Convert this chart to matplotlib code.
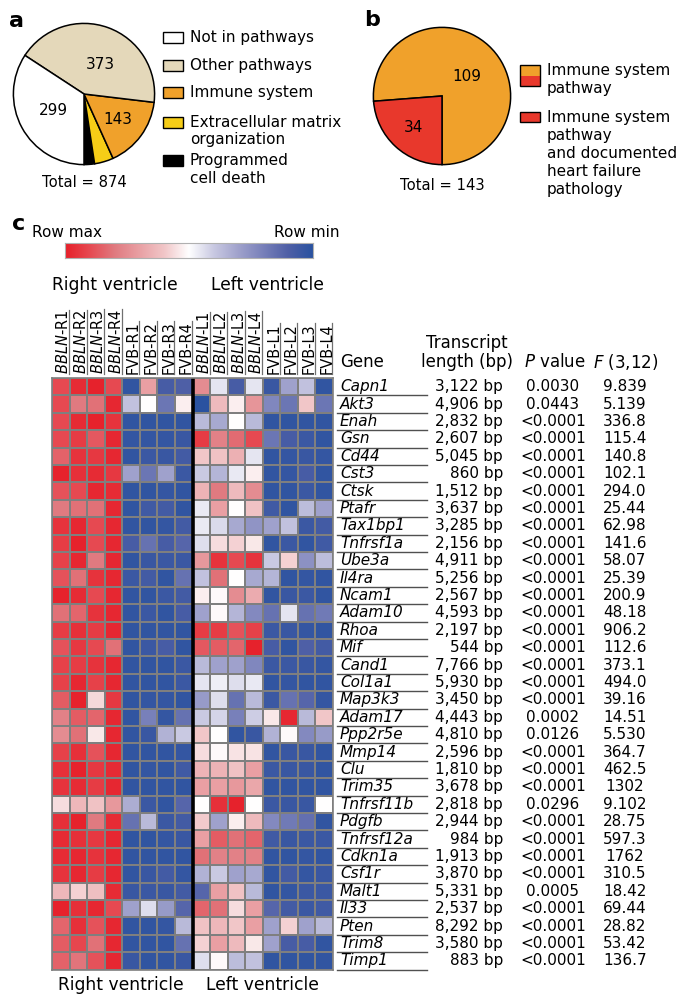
import numpy as np
import matplotlib.pyplot as plt
from matplotlib.colors import LinearSegmentedColormap
from matplotlib.patches import Rectangle

# ---- panel a: genes by pathway ----
pie_a_labels = ['Not in pathways', 'Other pathways', 'Immune system',
                'Extracellular matrix\norganization', 'Programmed\ncell death']
pie_a_counts = [299, 373, 143, 38, 21]
pie_a_colors = ['#ffffff', '#e4d8ba', '#f0a12b', '#f6cd17', '#000000']

# ---- panel b: immune system genes ----
pie_b_labels = ['Immune system\npathway',
                'Immune system\npathway\nand documented\nheart failure\npathology']
pie_b_counts = [109, 34]
pie_b_colors = ['#f0a12b', '#e8382c']

# ---- panel c: heatmap + table ----
samples = ['BBLN-R1', 'BBLN-R2', 'BBLN-R3', 'BBLN-R4', 'FVB-R1', 'FVB-R2', 'FVB-R3', 'FVB-R4',
           'BBLN-L1', 'BBLN-L2', 'BBLN-L3', 'BBLN-L4', 'FVB-L1', 'FVB-L2', 'FVB-L3', 'FVB-L4']

genes = ['Capn1', 'Akt3', 'Enah', 'Gsn', 'Cd44', 'Cst3', 'Ctsk', 'Ptafr', 'Tax1bp1',
         'Tnfrsf1a', 'Ube3a', 'Il4ra', 'Ncam1', 'Adam10', 'Rhoa', 'Mif', 'Cand1', 'Col1a1',
         'Map3k3', 'Adam17', 'Ppp2r5e', 'Mmp14', 'Clu', 'Trim35', 'Tnfrsf11b', 'Pdgfb',
         'Tnfrsf12a', 'Cdkn1a', 'Csf1r', 'Malt1', 'Il33', 'Pten', 'Trim8', 'Timp1']

transcript_bp = [3122, 4906, 2832, 2607, 5045, 860, 1512, 3637, 3285, 2156, 4911, 5256,
                 2567, 4593, 2197, 544, 7766, 5930, 3450, 4443, 4810, 2596, 1810, 3678,
                 2818, 2944, 984, 1913, 3870, 5331, 2537, 8292, 3580, 883]

p_values = ['0.0030', '0.0443'] + ['<0.0001'] * 17 + ['0.0002', '0.0126', '<0.0001',
            '<0.0001', '<0.0001', '0.0296', '<0.0001', '<0.0001', '<0.0001', '<0.0001',
            '0.0005', '<0.0001', '<0.0001', '<0.0001', '<0.0001']

f_values = ['9.839', '5.139', '336.8', '115.4', '140.8', '102.1', '294.0', '25.44', '62.98',
            '141.6', '58.07', '25.39', '200.9', '48.18', '906.2', '112.6', '373.1', '494.0',
            '39.16', '14.51', '5.530', '364.7', '462.5', '1302', '9.102', '28.75', '597.3',
            '1762', '310.5', '18.42', '69.44', '28.82', '53.42', '136.7']

# row-scaled expression, 1 = row max (red), 0 = row min (blue)
bbln_rv = [[0.90, 0.97, 0.99, 0.90], [0.90, 0.80, 0.82, 0.98], [0.90, 0.97, 0.99, 0.95],
           [0.90, 0.93, 0.87, 0.98], [0.85, 0.95, 0.94, 0.98], [0.99, 0.96, 0.97, 0.94],
           [0.88, 0.90, 0.98, 0.97], [0.80, 0.82, 0.82, 0.98], [0.95, 0.98, 0.90, 0.98],
           [0.93, 0.99, 0.90, 0.98], [0.92, 0.98, 0.80, 0.98], [0.88, 0.82, 0.95, 0.98],
           [0.99, 0.97, 0.90, 0.98], [0.82, 0.84, 0.95, 0.98], [0.93, 0.96, 0.93, 0.98],
           [0.88, 0.94, 0.90, 0.82], [0.92, 0.93, 0.95, 0.98], [0.92, 0.98, 0.92, 0.98],
           [0.86, 0.99, 0.57, 0.94], [0.78, 0.86, 0.84, 0.98], [0.75, 0.82, 0.54, 0.98],
           [0.92, 0.96, 0.88, 0.98], [0.96, 0.99, 0.94, 0.97], [0.95, 0.97, 0.93, 0.98],
           [0.56, 0.64, 0.61, 0.72], [0.96, 0.99, 0.80, 0.97], [0.97, 0.96, 0.94, 0.98],
           [0.97, 0.98, 0.95, 0.98], [0.95, 0.98, 0.93, 0.98], [0.64, 0.58, 0.62, 0.97],
           [0.99, 0.96, 0.98, 0.90], [0.84, 0.96, 0.88, 0.98], [0.86, 0.91, 0.82, 0.98],
           [0.85, 0.81, 0.88, 0.98]]
fvb_rv = [[0.02, 0.70, 0.08, 0.10], [0.38, 0.50, 0.17, 0.53], [0.02, 0.02, 0.02, 0.02],
          [0.03, 0.03, 0.03, 0.04], [0.02, 0.05, 0.04, 0.07], [0.30, 0.17, 0.30, 0.05],
          [0.02, 0.02, 0.03, 0.02], [0.02, 0.06, 0.07, 0.02], [0.02, 0.02, 0.03, 0.07],
          [0.08, 0.16, 0.08, 0.12], [0.02, 0.04, 0.05, 0.05], [0.05, 0.07, 0.02, 0.16],
          [0.02, 0.02, 0.05, 0.07], [0.02, 0.05, 0.02, 0.08], [0.02, 0.02, 0.02, 0.02],
          [0.02, 0.05, 0.08, 0.02], [0.02, 0.02, 0.02, 0.05], [0.02, 0.02, 0.02, 0.05],
          [0.02, 0.03, 0.03, 0.02], [0.02, 0.20, 0.03, 0.16], [0.02, 0.04, 0.34, 0.40],
          [0.02, 0.02, 0.02, 0.03], [0.02, 0.03, 0.02, 0.06], [0.02, 0.02, 0.02, 0.02],
          [0.33, 0.05, 0.02, 0.12], [0.16, 0.36, 0.05, 0.07], [0.02, 0.02, 0.03, 0.04],
          [0.02, 0.02, 0.02, 0.02], [0.02, 0.04, 0.07, 0.03], [0.04, 0.05, 0.04, 0.07],
          [0.30, 0.44, 0.28, 0.12], [0.02, 0.02, 0.03, 0.36], [0.02, 0.02, 0.02, 0.16],
          [0.04, 0.02, 0.02, 0.04]]
bbln_lv = [[0.75, 0.45, 0.08, 0.45], [0.00, 0.63, 0.53, 0.73], [0.36, 0.32, 0.50, 0.36],
           [0.93, 0.78, 0.83, 0.90], [0.60, 0.61, 0.66, 0.45], [0.40, 0.35, 0.46, 0.53],
           [0.65, 0.80, 0.63, 0.75], [0.46, 0.70, 0.50, 0.61], [0.46, 0.43, 0.32, 0.26],
           [0.44, 0.56, 0.58, 0.54], [0.72, 0.95, 0.90, 0.95], [0.38, 0.82, 0.50, 0.32],
           [0.53, 0.51, 0.75, 0.67], [0.30, 0.51, 0.35, 0.23], [0.93, 0.93, 0.88, 0.92],
           [0.87, 0.86, 0.84, 0.99], [0.36, 0.30, 0.30, 0.22], [0.45, 0.47, 0.44, 0.46],
           [0.28, 0.44, 0.16, 0.36], [0.40, 0.42, 0.20, 0.41], [0.60, 0.50, 0.02, 0.04],
           [0.56, 0.51, 0.55, 0.55], [0.65, 0.65, 0.61, 0.70], [0.70, 0.70, 0.72, 0.68],
           [0.50, 0.96, 0.99, 0.50], [0.59, 0.30, 0.53, 0.63], [0.70, 0.86, 0.82, 0.84],
           [0.82, 0.78, 0.78, 0.78], [0.34, 0.40, 0.30, 0.32], [0.12, 0.70, 0.61, 0.36],
           [0.84, 0.82, 0.56, 0.70], [0.61, 0.64, 0.60, 0.70], [0.58, 0.70, 0.63, 0.54],
           [0.44, 0.51, 0.37, 0.38]]
fvb_lv = [[0.04, 0.30, 0.38, 0.02], [0.22, 0.17, 0.60, 0.17], [0.02, 0.02, 0.02, 0.02],
          [0.17, 0.08, 0.05, 0.02], [0.02, 0.03, 0.04, 0.03], [0.02, 0.03, 0.08, 0.02],
          [0.02, 0.02, 0.05, 0.02], [0.06, 0.02, 0.37, 0.30], [0.30, 0.38, 0.05, 0.07],
          [0.02, 0.05, 0.02, 0.06], [0.40, 0.58, 0.25, 0.37], [0.35, 0.02, 0.03, 0.02],
          [0.02, 0.04, 0.05, 0.02], [0.16, 0.45, 0.16, 0.18], [0.05, 0.04, 0.03, 0.02],
          [0.08, 0.02, 0.10, 0.07], [0.05, 0.05, 0.04, 0.03], [0.02, 0.03, 0.02, 0.02],
          [0.05, 0.16, 0.12, 0.03], [0.54, 0.98, 0.36, 0.60], [0.34, 0.51, 0.23, 0.28],
          [0.02, 0.04, 0.04, 0.02], [0.05, 0.04, 0.04, 0.02], [0.02, 0.02, 0.02, 0.02],
          [0.05, 0.04, 0.04, 0.50], [0.23, 0.18, 0.15, 0.02], [0.06, 0.04, 0.05, 0.05],
          [0.02, 0.02, 0.03, 0.02], [0.02, 0.07, 0.03, 0.04], [0.02, 0.03, 0.05, 0.05],
          [0.12, 0.07, 0.05, 0.06], [0.30, 0.58, 0.30, 0.36], [0.30, 0.08, 0.08, 0.02],
          [0.02, 0.02, 0.02, 0.02]]

heat = np.hstack([bbln_rv, fvb_rv, bbln_lv, fvb_lv])

heat_cmap = LinearSegmentedColormap.from_list('rowscale', [
    (0.0, '#2a52a0'), (0.1, '#4f5fa6'), (0.2, '#7880ba'), (0.3, '#a0a2cc'),
    (0.4, '#c9c9e2'), (0.5, '#ffffff'), (0.6, '#f1c6c8'), (0.7, '#e9a0a4'),
    (0.8, '#e07a80'), (0.9, '#e64a52'), (1.0, '#e61f29')])

# ---------------------------------------------------------------
W, H = 685, 996
fig = plt.figure(figsize=(W / 100, H / 100), dpi=100)


def box(x0, y0, x1, y1):
    # axes from pixel box, origin top-left
    return fig.add_axes([x0 / W, 1 - y1 / H, (x1 - x0) / W, (y1 - y0) / H])


ov = fig.add_axes([0, 0, 1, 1])
ov.set_xlim(0, W)
ov.set_ylim(H, 0)
ov.axis('off')
ov.patch.set_visible(False)
ov.set_zorder(10)

FS = 11

# ---- a ----
ov.text(17, 21, 'a', fontsize=16, fontweight='heavy', ha='center', va='center')
ax_a = box(12, 22, 156, 166)
wa, _ = ax_a.pie(pie_a_counts[::-1], colors=pie_a_colors[::-1], startangle=270,
                 counterclock=True, wedgeprops=dict(edgecolor='black', linewidth=1.1))
ax_a.set_xlim(-1.02, 1.02)
ax_a.set_ylim(-1.02, 1.02)
# label distance and small angular nudge per slice
for w, n, d, da in zip(wa[::-1][:3], pie_a_counts[:3], [0.5, 0.47, 0.6], [0, -9, 0]):
    ang = np.deg2rad((w.theta1 + w.theta2) / 2 + da)
    ax_a.text(d * np.cos(ang), d * np.sin(ang), str(n), ha='center', va='center', fontsize=FS)
ov.text(84, 182, 'Total = %d' % sum(pie_a_counts), ha='center', va='center', fontsize=10.6)

leg_a_y = [37.5, 65, 92.5, 122, 160.5]
for lab, col, y in zip(pie_a_labels, pie_a_colors, leg_a_y):
    ov.add_patch(Rectangle((163, y - 5.5), 20, 11, facecolor=col, edgecolor='black', lw=1))
    for k, line in enumerate(lab.split('\n')):
        ov.text(190, y + k * 17.5, line, ha='left', va='center', fontsize=FS)

# ---- b ----
ov.text(372, 20, 'b', fontsize=16, fontweight='heavy', ha='center', va='center')
ax_b = box(372, 26, 512, 166)
wb, _ = ax_b.pie(pie_b_counts, colors=pie_b_colors, startangle=270, counterclock=True,
                 wedgeprops=dict(edgecolor='black', linewidth=1.1))
ax_b.set_xlim(-1.02, 1.02)
ax_b.set_ylim(-1.02, 1.02)
for w, n, d, da in zip(wb, pie_b_counts, [0.46, 0.62], [-10, 0]):
    ang = np.deg2rad((w.theta1 + w.theta2) / 2 + da)
    ax_b.text(d * np.cos(ang), d * np.sin(ang), str(n), ha='center', va='center', fontsize=FS)
ov.text(442, 185, 'Total = %d' % sum(pie_b_counts), ha='center', va='center', fontsize=10.6)

ov.add_patch(Rectangle((520, 65), 20, 10.5, facecolor=pie_b_colors[0], edgecolor='none'))
ov.add_patch(Rectangle((520, 75.5), 20, 10.5, facecolor=pie_b_colors[1], edgecolor='none'))
ov.add_patch(Rectangle((520, 65), 20, 21, facecolor='none', edgecolor='black', lw=1))
ov.add_patch(Rectangle((520, 112), 20, 10, facecolor=pie_b_colors[1], edgecolor='black', lw=1))
for lab, y in zip(pie_b_labels, [70, 117]):
    for k, line in enumerate(lab.split('\n')):
        ov.text(547, y + k * 18.2, line, ha='left', va='center', fontsize=FS)

# ---- c ----
ov.text(19, 224, 'c', fontsize=16, fontweight='heavy', ha='center', va='center')
ov.text(32, 232, 'Row max', ha='left', va='center', fontsize=FS)
ov.text(340, 232, 'Row min', ha='right', va='center', fontsize=FS)
ax_cb = box(65, 243, 313, 258)
ax_cb.imshow(np.linspace(1, 0, 256)[None, :], aspect='auto', cmap=heat_cmap, vmin=0, vmax=1)
ax_cb.set_xticks([])
ax_cb.set_yticks([])
for s in ax_cb.spines.values():
    s.set_color('#b0b0b0')
    s.set_linewidth(0.8)

ov.text(115, 285, 'Right ventricle', ha='center', va='center', fontsize=12.3)
ov.text(267, 285, 'Left ventricle', ha='center', va='center', fontsize=12.3)
ov.text(121, 985, 'Right ventricle', ha='center', va='center', fontsize=12.3)
ov.text(262, 985, 'Left ventricle', ha='center', va='center', fontsize=12.3)

hx0, hx1, hy0, hy1 = 52, 333, 378, 969.6
nrow, ncol = heat.shape
cw = (hx1 - hx0) / ncol
rh = (hy1 - hy0) / nrow

ax_h = box(hx0, hy0, hx1, hy1)
ax_h.pcolormesh(heat, cmap=heat_cmap, vmin=0, vmax=1, edgecolors='#7f7f7f', linewidth=1.2)
ax_h.set_xlim(0, ncol)
ax_h.set_ylim(nrow, 0)
ax_h.axvline(ncol / 2, color='black', lw=2.6)
ax_h.set_xticks([])
ax_h.set_yticks([])
for s in ax_h.spines.values():
    s.set_color('#7f7f7f')
    s.set_linewidth(1.2)

col_txt = []
for j, s in enumerate(samples):
    strain, rep = s.split('-')
    lab = (r'$\mathit{%s}$-%s' % (strain, rep)) if strain == 'BBLN' else s
    t = ov.text(hx0 + (j + 0.5) * cw + 2.5, 374, lab, rotation=90, ha='center',
                va='bottom', fontsize=10.5)
    col_txt.append(t)

# table header
ov.text(340, 362, 'Gene', ha='left', va='center', fontsize=12)
ov.text(467, 343, 'Transcript', ha='center', va='center', fontsize=12)
ov.text(467, 362, 'length (bp)', ha='center', va='center', fontsize=12)
ov.text(555, 362, r'$\mathit{P}$ value', ha='center', va='center', fontsize=12)
ov.text(626, 362, r'$\mathit{F}$ (3,12)', ha='center', va='center', fontsize=12)

for i, g in enumerate(genes):
    yc = hy0 + (i + 0.5) * rh
    yb = hy0 + (i + 1) * rh
    ov.text(340, yc, g, ha='left', va='center', fontsize=FS, fontstyle='italic')
    ov.plot([337, 427], [yb, yb], color='#505050', lw=1.0)
    ov.text(503, yc, '{:,} bp'.format(transcript_bp[i]), ha='right', va='center', fontsize=FS)
    ov.text(553, yc, p_values[i], ha='center', va='center', fontsize=FS)
    ov.text(625, yc, f_values[i], ha='center', va='center', fontsize=FS)

# underline the rotated sample labels
fig.canvas.draw()
r = fig.canvas.get_renderer()
for t in col_txt:
    bb = t.get_window_extent(r)
    xl = bb.x1 - 2
    ov.plot([xl, xl], [H - bb.y0, H - bb.y1], color='#707070', lw=0.9)

fig.savefig('out.png', dpi=100)
